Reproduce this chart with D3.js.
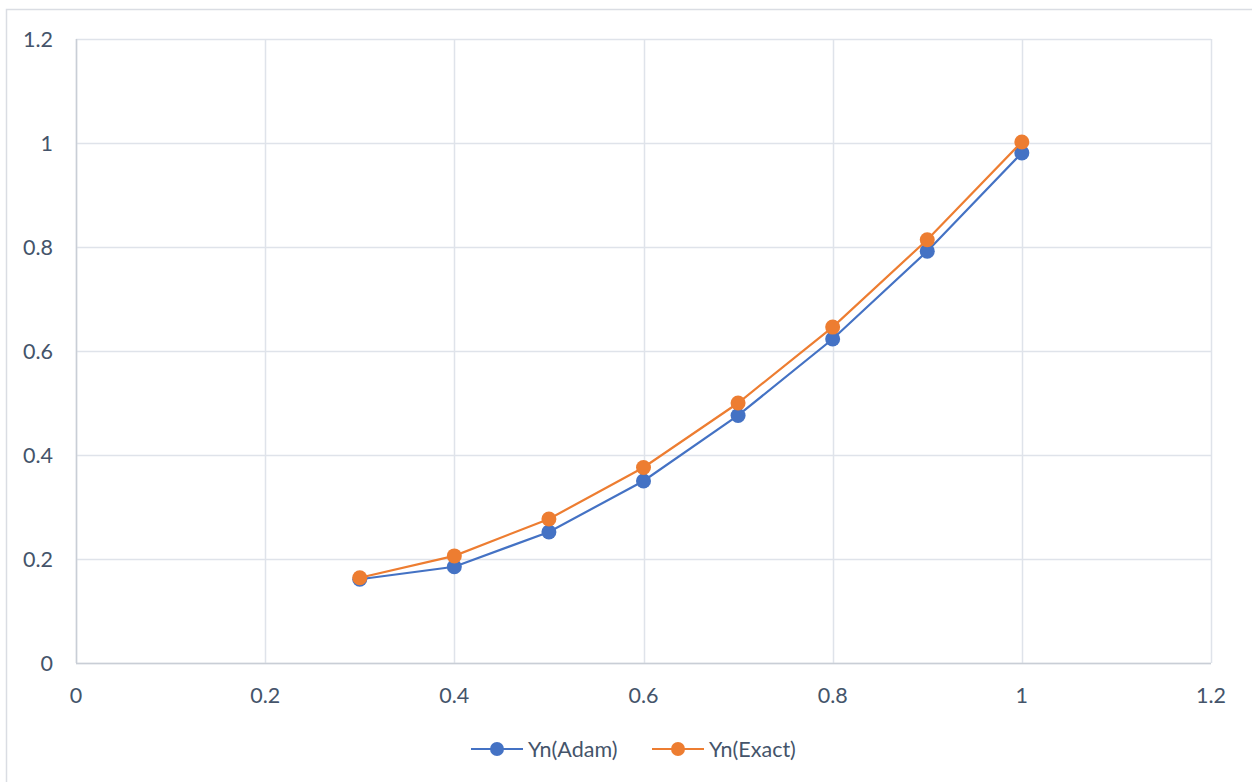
<!DOCTYPE html>
<html>
<head>
<meta charset="utf-8">
<script src="https://cdn.jsdelivr.net/npm/d3@7"></script>
<style>
  body { margin: 0; background: #fff; }
  svg { display: block; font-family: Lato, "Open Sans", sans-serif; }
</style>
</head>
<body>
<svg id="chart"></svg>
<script>
// data
const xValues = [0.3, 0.4, 0.5, 0.6, 0.7, 0.8, 0.9, 1.0];
const adamValues = [0.161, 0.185, 0.252, 0.350, 0.476, 0.623, 0.792, 0.981];
const exactValues = [0.164, 0.206, 0.277, 0.376, 0.500, 0.646, 0.814, 1.002];
const seriesNames = ["Yn(Adam)", "Yn(Exact)"];
const xTicks = [0, 0.2, 0.4, 0.6, 0.8, 1, 1.2];
const yTicks = [0, 0.2, 0.4, 0.6, 0.8, 1, 1.2];

const width = 1252, height = 782;
const margin = { top: 39, right: 41, bottom: 119, left: 76 };
const colors = ["#4472c4", "#ed7d31"];
const textColor = "#44546a";
const gridColor = "#dfe3ea";
const fontSize = "21.5px";

const svg = d3.select("#chart").attr("width", width).attr("height", height);

// outer chart border
svg.append("rect")
  .attr("x", 6.5).attr("y", 9.5)
  .attr("width", width + 10).attr("height", height + 10)
  .attr("fill", "none").attr("stroke", "#dadde3").attr("stroke-width", 1.5);

const x = d3.scaleLinear().domain([0, 1.2]).range([margin.left, width - margin.right]);
const y = d3.scaleLinear().domain([0, 1.2]).range([height - margin.bottom, margin.top]);

// gridlines
svg.append("g")
  .selectAll("line.vgrid")
  .data(xTicks)
  .join("line")
  .attr("x1", d => Math.round(x(d)) + 0.5).attr("x2", d => Math.round(x(d)) + 0.5)
  .attr("y1", y(0)).attr("y2", y(1.2))
  .attr("stroke", gridColor).attr("stroke-width", 1.5);

svg.append("g")
  .selectAll("line.hgrid")
  .data(yTicks)
  .join("line")
  .attr("x1", x(0)).attr("x2", x(1.2))
  .attr("y1", d => Math.round(y(d)) + 0.5).attr("y2", d => Math.round(y(d)) + 0.5)
  .attr("stroke", gridColor).attr("stroke-width", 1.5);

// axis lines (slightly darker on left / bottom)
svg.append("line")
  .attr("x1", x(0)).attr("x2", x(1.2)).attr("y1", y(0) + 0.5).attr("y2", y(0) + 0.5)
  .attr("stroke", "#c9ced6").attr("stroke-width", 1.5);
svg.append("line")
  .attr("x1", x(0) + 0.5).attr("x2", x(0) + 0.5).attr("y1", y(0)).attr("y2", y(1.2))
  .attr("stroke", "#c9ced6").attr("stroke-width", 1.5);

// tick labels
const fmt = d => d3.format("")(+d.toFixed(1));
svg.append("g")
  .selectAll("text")
  .data(yTicks)
  .join("text")
  .attr("x", margin.left - 23)
  .attr("y", d => y(d))
  .attr("dy", "0.35em")
  .attr("text-anchor", "end")
  .attr("fill", textColor)
  .style("font-size", fontSize)
  .text(fmt);

svg.append("g")
  .selectAll("text")
  .data(xTicks)
  .join("text")
  .attr("x", d => x(d))
  .attr("y", y(0) + 32)
  .attr("dy", "0.35em")
  .attr("text-anchor", "middle")
  .attr("fill", textColor)
  .style("font-size", fontSize)
  .text(fmt);

// series
const series = [adamValues, exactValues];
const line = d3.line().x((d, i) => x(xValues[i])).y(d => y(d));

series.forEach((vals, k) => {
  svg.append("path")
    .datum(vals)
    .attr("d", line)
    .attr("fill", "none")
    .attr("stroke", colors[k])
    .attr("stroke-width", 2.2);
  svg.append("g")
    .selectAll("circle")
    .data(vals)
    .join("circle")
    .attr("cx", (d, i) => x(xValues[i]))
    .attr("cy", d => y(d))
    .attr("r", 7.5)
    .attr("fill", colors[k]);
});

// legend
const legendX = [471, 652];
const legendY = 749;
seriesNames.forEach((name, k) => {
  const lg = svg.append("g").attr("transform", `translate(${legendX[k]},${legendY})`);
  lg.append("line").attr("x1", 0).attr("x2", 52).attr("y1", 0).attr("y2", 0)
    .attr("stroke", colors[k]).attr("stroke-width", 2.2);
  lg.append("circle").attr("cx", 26).attr("cy", 0).attr("r", 7).attr("fill", colors[k]);
  lg.append("text").attr("x", 57).attr("y", 0).attr("dy", "0.35em")
    .attr("fill", textColor).style("font-size", fontSize).text(name);
});
</script>
</body>
</html>
